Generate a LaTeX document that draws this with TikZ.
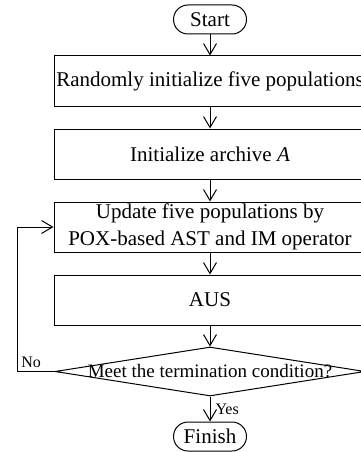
\documentclass[tikz,border=0pt]{standalone}
\usepackage{fontspec}
\setmainfont{Liberation Serif}
\usetikzlibrary{positioning, arrows.meta, shapes.misc, shapes.geometric}
\tikzset{
every picture/.style={line width=1pt},
>={Straight Barb[length=11pt,width=13pt]}, % open v-shaped heads
node distance=22pt, % gap between two boxes
term/.style={draw, rounded rectangle, minimum width=73pt, minimum height=29pt, inner sep=0pt, font=\fontsize{21}{24}\selectfont},
proc/.style={draw, rectangle, minimum width=312pt, minimum height=50pt, inner sep=0pt, align=center, font=\fontsize{21}{27}\selectfont},
decide/.style={draw, diamond, shape aspect=6.3, minimum width=310pt, minimum height=49pt, inner sep=-3pt, font=\fontsize{19}{22}\selectfont},
tag/.style={inner sep=1pt, font=\fontsize{16}{18}\selectfont},
}

\begin{document}
\begin{tikzpicture}
  \useasboundingbox (0pt,0pt) rectangle (360pt,-452pt);

  \node[term] (start) at (210pt,-19.5pt) {Start};
  \node[proc, below=21pt of start] (init) {Randomly initialize five populations};
  \node[proc, below=of init] (arch) {Initialize archive \textit{A}};
  \node[proc, below=of arch] (upd) {Update five populations by\\POX-based AST and IM operator};
  \node[proc, below=of upd] (aus) {AUS};
  \node[decide, below=21pt of aus] (cond) {Meet the termination condition?};
  \node[term, below=25pt of cond] (fin) {Finish};

  \draw[->] (start) -- (init);
  \draw[->] (init) -- (arch);
  \draw[->] (arch) -- (upd);
  \draw[->] (upd) -- (aus);
  \draw[->] (aus) -- (cond);
  \draw[->] (cond) -- node[tag, right, xshift=4pt] {Yes} (fin);
  \draw[->] (cond.west) -- ++(-37pt,0) |- (upd.west);
  \node[tag, anchor=south east] at ([xshift=-12pt, yshift=2pt]cond.west) {No};
\end{tikzpicture}
\end{document}
